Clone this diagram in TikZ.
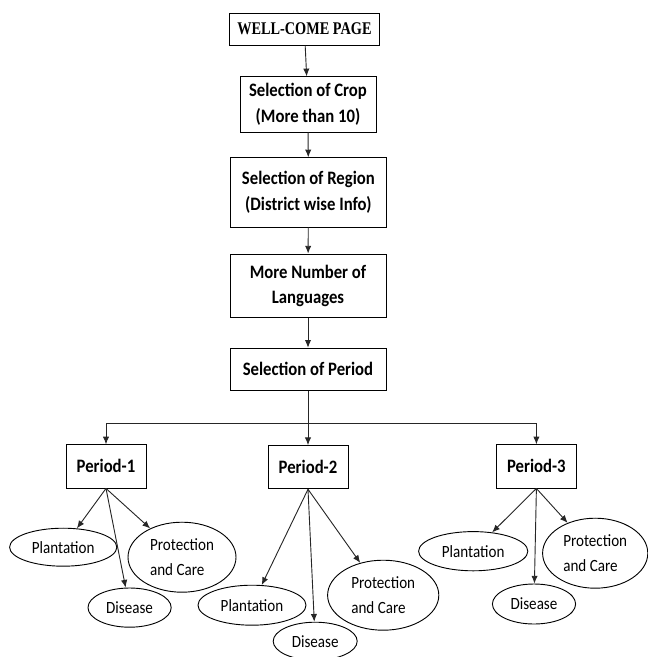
\documentclass[tikz,border=0pt]{standalone}
\usepackage{fontspec}
\setmainfont{Carlito}[FakeStretch=0.88]
\newfontfamily\titlefont{Liberation Serif}[FakeStretch=0.8]
\usetikzlibrary{shapes.geometric,arrows.meta}

\begin{document}
\begin{tikzpicture}[>={Latex[length=5.5pt,width=4.5pt]},
	line width=0.65pt,
	stepbox/.style={draw, rectangle, inner sep=0pt, align=center,
		font=\fontsize{13.5}{18}\selectfont\bfseries},
	leaf/.style={draw, ellipse, inner sep=0pt, align=left,
		font=\fontsize{12.2}{18}\selectfont},
	link/.style={->, draw=black!85}]
	\useasboundingbox (0,0) rectangle (16.2,-16.425);

	% Main steps
	\node[stepbox, minimum width=3.73cm, minimum height=0.8cm, font=\fontsize{12.7}{15}\selectfont\titlefont\bfseries] (welcome) at (7.61,-0.73) {WELL-COME PAGE};
	\node[stepbox, minimum width=3.4cm, minimum height=1.38cm] (crop) at (7.70,-2.61) {Selection of Crop\\(More than 10)};
	\node[stepbox, minimum width=3.88cm, minimum height=1.73cm] (region) at (7.71,-4.81) {Selection of Region\\(District wise Info)};
	\node[stepbox, minimum width=3.9cm, minimum height=1.58cm] (lang) at (7.70,-7.14) {More Number of\\Languages};
	\node[stepbox, minimum width=3.9cm, minimum height=1.05cm] (period) at (7.70,-9.23) {Selection of Period};

	% Periods
	\coordinate (split) at (7.70,-10.58);
	\node[stepbox, minimum width=2cm, minimum height=1.08cm] (p1) at (2.65,-11.66) {Period-1};
	\node[stepbox, minimum width=2cm, minimum height=1.08cm] (p2) at (7.70,-11.68) {Period-2};
	\node[stepbox, minimum width=2cm, minimum height=1.08cm] (p3) at (13.41,-11.66) {Period-3};

	% Period-1 leaves
	\node[leaf, minimum width=2.68cm, minimum height=0.95cm] (plant1) at (1.58,-13.68) {Plantation};
	\node[leaf, minimum width=2.7cm, minimum height=1.75cm] (prot1) at (4.55,-13.93) {Protection\\and Care};
	\node[leaf, minimum width=2.08cm, minimum height=0.98cm] (dis1) at (3.24,-15.19) {Disease};

	% Period-2 leaves
	\node[leaf, minimum width=2.7cm, minimum height=1cm] (plant2) at (6.30,-15.13) {Plantation};
	\node[leaf, minimum width=2.1cm, minimum height=0.95cm] (dis2) at (7.88,-16.03) {Disease};
	\node[leaf, minimum width=2.78cm, minimum height=1.75cm] (prot2) at (9.58,-14.88) {Protection\\and Care};

	% Period-3 leaves
	\node[leaf, minimum width=2.73cm, minimum height=0.98cm] (plant3) at (11.83,-13.78) {Plantation};
	\node[leaf, minimum width=2.63cm, minimum height=1.75cm] (prot3) at (14.88,-13.83) {Protection\\and Care};
	\node[leaf, minimum width=2.08cm, minimum height=1cm] (dis3) at (13.35,-15.10) {Disease};

	% Connections
	\draw[link] (welcome) -- (crop);
	\draw[link] (crop) -- (region);
	\draw[link] (region) -- (lang);
	\draw[link] (lang) -- (period);
	\draw[draw=black!85] (period) -- (split);
	\draw[link] (split) -| (p1);
	\draw[link] (split) -- (p2);
	\draw[link] (split) -| (p3);

	\draw[link] (p1.south) -- (plant1);
	\draw[link] (p1.south) -- (dis1);
	\draw[link] (p1.south) -- (prot1);
	\draw[link] (p2.south) -- (plant2);
	\draw[link] (p2.south) -- (dis2);
	\draw[link] (p2.south) -- (prot2);
	\draw[link] (p3.south) -- (plant3);
	\draw[link] (p3.south) -- (dis3);
	\draw[link] (p3.south) -- (prot3);

\end{tikzpicture}
\end{document}
